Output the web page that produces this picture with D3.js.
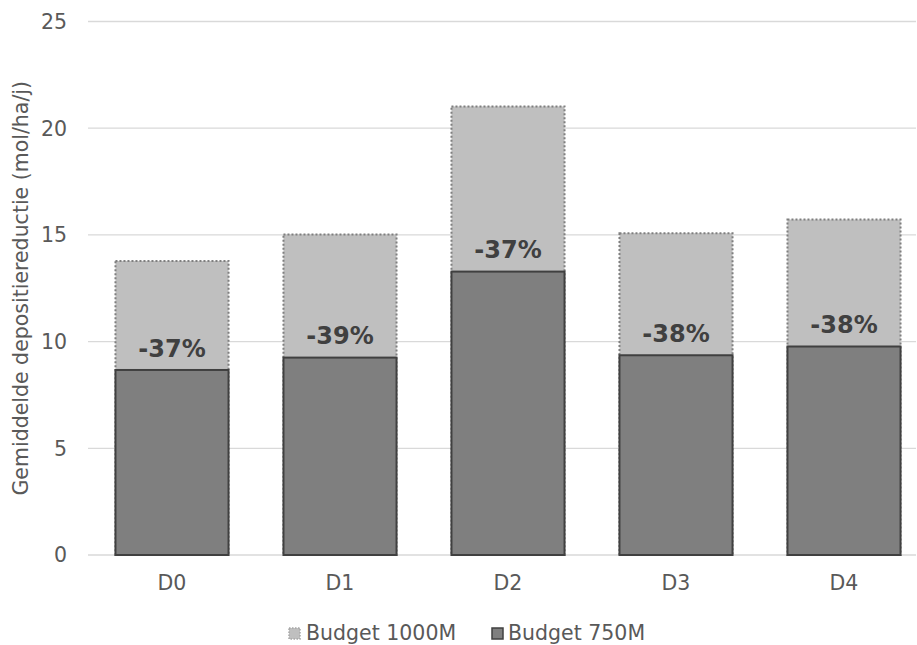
<!DOCTYPE html>
<html>
<head>
<meta charset="utf-8">
<script src="https://cdn.jsdelivr.net/npm/d3@7"></script>
<style>
  html, body { margin: 0; padding: 0; background: #fff; }
  svg { display: block; font-family: "DejaVu Sans", Verdana, sans-serif; }
</style>
</head>
<body>
<svg id="chart" width="917" height="645"></svg>
<script>
const categories = ["D0", "D1", "D2", "D3", "D4"];
const budget1000 = [13.78, 15.02, 21.02, 15.08, 15.72];
const budget750 = [8.67, 9.25, 13.28, 9.36, 9.77];
const reductionLabels = ["-37%", "-39%", "-37%", "-38%", "-38%"];
const yTicks = [0, 5, 10, 15, 20, 25];
const seriesNames = ["Budget 1000M", "Budget 750M"];
const yTitle = "Gemiddelde depositiereductie (mol/ha/j)";

const FS = 20.5;
const svg = d3.select("#chart");
const x = d3.scaleBand().domain(categories).range([88, 928]).paddingInner(0.327).paddingOuter(0.1635);
const y = d3.scaleLinear().domain([0, 25]).range([555, 21.5]);

// gridlines
svg.append("g").selectAll("line").data(yTicks).join("line")
  .attr("x1", 88).attr("x2", 916)
  .attr("y1", d => y(d)).attr("y2", d => y(d))
  .attr("stroke", "#d9d9d9").attr("stroke-width", 1.3);

// y tick labels
svg.append("g").selectAll("text").data(yTicks).join("text")
  .attr("x", 67).attr("y", d => y(d)).attr("dy", "0.36em")
  .attr("text-anchor", "end").attr("fill", "#595959").attr("font-size", FS)
  .text(d => d);

// y title
svg.append("text")
  .attr("transform", `translate(21,${y(12.5)}) rotate(-90)`)
  .attr("text-anchor", "middle").attr("dy", "0.36em").attr("fill", "#595959").attr("font-size", FS)
  .text(yTitle);

// light bars (1000M)
svg.append("g").selectAll("rect").data(categories).join("rect")
  .attr("x", d => x(d)).attr("width", x.bandwidth())
  .attr("y", (d, i) => y(budget1000[i])).attr("height", (d, i) => y(0) - y(budget1000[i]))
  .attr("fill", "#bfbfbf").attr("stroke", "#7f7f7f").attr("stroke-width", 2)
  .attr("stroke-dasharray", "2,2");

// dark bars (750M)
svg.append("g").selectAll("rect").data(categories).join("rect")
  .attr("x", d => x(d)).attr("width", x.bandwidth())
  .attr("y", (d, i) => y(budget750[i])).attr("height", (d, i) => y(0) - y(budget750[i]))
  .attr("fill", "#7f7f7f").attr("stroke", "#404040").attr("stroke-width", 2);

// reduction labels
svg.append("g").selectAll("text").data(categories).join("text")
  .attr("x", d => x(d) + x.bandwidth() / 2)
  .attr("y", (d, i) => y(budget750[i]) - 22).attr("dy", "0.36em")
  .attr("text-anchor", "middle").attr("fill", "#404040")
  .attr("font-size", 24).attr("font-weight", "bold")
  .text((d, i) => reductionLabels[i]);

// x axis labels
svg.append("g").selectAll("text").data(categories).join("text")
  .attr("x", d => x(d) + x.bandwidth() / 2).attr("y", 583).attr("dy", "0.36em")
  .attr("text-anchor", "middle").attr("fill", "#595959").attr("font-size", FS)
  .text(d => d);

// legend
const leg = svg.append("g");
leg.append("rect").attr("x", 289).attr("y", 628).attr("width", 11).attr("height", 11)
  .attr("fill", "#bfbfbf").attr("stroke", "#a6a6a6").attr("stroke-width", 1.5).attr("stroke-dasharray", "1.5,1.5");
leg.append("text").attr("x", 306).attr("y", 633).attr("dy", "0.36em")
  .attr("fill", "#595959").attr("font-size", FS).text(seriesNames[0]);
leg.append("rect").attr("x", 492).attr("y", 628).attr("width", 11).attr("height", 11)
  .attr("fill", "#7f7f7f").attr("stroke", "#404040").attr("stroke-width", 1.5);
leg.append("text").attr("x", 508).attr("y", 633).attr("dy", "0.36em")
  .attr("fill", "#595959").attr("font-size", FS).text(seriesNames[1]);
</script>
</body>
</html>
